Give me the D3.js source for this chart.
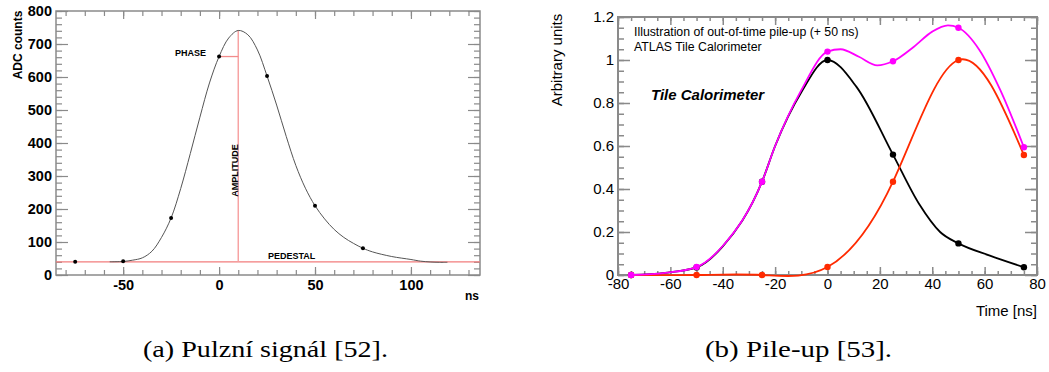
<!DOCTYPE html>
<html lang="en">
<head>
<meta charset="utf-8">
<title>Pulzní signál a pile-up</title>
<script src="https://d3js.org/d3.v7.min.js"></script>
<style>
  body { margin: 0; background: #fff; }
  svg text { font-family: Arial, "Liberation Sans", sans-serif; fill: #000; }
</style>
</head>
<body>
<script>
// (a) pulse shape, ADC counts vs ns
var pulseDotT = [-75, -50, -25, 0, 25, 50, 75];
var pulseDotADC = [40, 42, 173, 662, 603, 210, 81];
var pulseCurveT = [-57, -50, -45, -40, -35, -30, -25, -20, -15, -10, -5, 0, 5, 10, 15, 20, 25, 30, 35, 40, 45, 50, 55, 60, 65, 70, 75, 80, 90, 100, 105, 110, 115, 119];
var pulseCurveADC = [40, 41, 45, 52, 72, 114, 173, 262, 368, 478, 582, 662, 718, 741, 728, 682, 603, 515, 420, 332, 263, 210, 170, 138, 114, 96, 81, 70, 56, 47, 42, 39.5, 38.5, 38.5];
var pedestal = 40, peakT = 10, peakADC = 741, phaseT = 0, phaseADC = 662;
var pulseYTicks = [0, 100, 200, 300, 400, 500, 600, 700, 800];
var pulseXTicks = [-50, 0, 50, 100];

// (b) pile-up, arbitrary units vs time
var pileT = [-75, -50, -25, 0, 25, 50, 75];
var inTime = [0, 0.035, 0.434, 1.0, 0.56, 0.147, 0.036];
var outOfTime = [0, 0, 0, 0.037, 0.434, 1.0, 0.558];
var summed = [0, 0.037, 0.434, 1.039, 0.994, 1.15, 0.594];
// drawn curves (they are not plain splines of the dots)
var inTimeCurveT = [-75, -62, -50, -40, -25, -20, -10, 0, 11, 25, 35, 43, 50, 62, 75];
var inTimeCurveV = [0, 0.01, 0.035, 0.133, 0.434, 0.6, 0.85, 1.0, 0.876, 0.56, 0.33, 0.2, 0.147, 0.09, 0.036];
var summedCurveT = [-75, -62, -50, -40, -25, -20, -10, 0, 5, 12, 19, 25, 33, 40, 46, 50, 58, 66, 75];
var summedCurveV = [0, 0.01, 0.037, 0.135, 0.434, 0.6, 0.86, 1.039, 1.05, 1.015, 0.975, 0.994, 1.062, 1.132, 1.161, 1.15, 1.047, 0.86, 0.594];
var pileYTicks = [0, 0.2, 0.4, 0.6, 0.8, 1, 1.2];
var pileXTicks = [-80, -60, -40, -20, 0, 20, 40, 60, 80];

var w = 1049, h = 372;
var svg = d3.select("body").append("svg").attr("width", w).attr("height", h);

var hyphen = function (d) { return String(+d.toFixed(2)); };

// draws the four sides of tick marks plus a frame
function ticks(g, x, y, o) {
    var x0 = x.range()[0], x1 = x.range()[1], y0 = y.range()[0], y1 = y.range()[1];
    function clean(sel) {
        sel.select(".domain").remove();
        sel.selectAll("line").attr("stroke", o.color).attr("stroke-width", o.tickWidth);
    }
    [[d3.axisBottom, y0], [d3.axisTop, y1]].forEach(function (a) {
        g.append("g").attr("transform", "translate(0," + a[1] + ")")
            .call(a[0](x).tickValues(o.xMinor).tickSize(-o.xMinorLen).tickFormat("")).call(clean);
        g.append("g").attr("transform", "translate(0," + a[1] + ")")
            .call(a[0](x).tickValues(o.xMajor).tickSize(-o.xMajorLen).tickFormat("")).call(clean);
    });
    [[d3.axisLeft, x0], [d3.axisRight, x1]].forEach(function (a) {
        g.append("g").attr("transform", "translate(" + a[1] + ",0)")
            .call(a[0](y).tickValues(o.yMinor).tickSize(-o.yMinorLen).tickFormat("")).call(clean);
        g.append("g").attr("transform", "translate(" + a[1] + ",0)")
            .call(a[0](y).tickValues(o.yMajor).tickSize(-o.yMajorLen).tickFormat("")).call(clean);
    });
    // labels
    var xl = g.append("g").attr("transform", "translate(0," + y0 + ")")
        .call(d3.axisBottom(x).tickValues(o.xMajor).tickSize(0).tickPadding(o.xPad).tickFormat(hyphen));
    xl.select(".domain").remove();
    xl.attr("font-family", null).attr("font-size", null);
    xl.selectAll("text").style("font-size", o.fontSize + "px").style("font-weight", o.weight);
    var yl = g.append("g").attr("transform", "translate(" + x0 + ",0)")
        .call(d3.axisLeft(y).tickValues(o.yMajor).tickSize(0).tickPadding(o.yPad).tickFormat(hyphen));
    yl.select(".domain").remove();
    yl.attr("font-family", null).attr("font-size", null);
    yl.selectAll("text").style("font-size", o.fontSize + "px").style("font-weight", o.weight);
    g.append("rect").attr("x", x0).attr("y", y1).attr("width", x1 - x0).attr("height", y0 - y1)
        .attr("fill", "none").attr("stroke", o.color).attr("stroke-width", o.frameWidth);
}

// ---------- (a) ----------
var ax = d3.scaleLinear().domain([-85, 136]).range([56, 480]);
var ay = d3.scaleLinear().domain([0, 800]).range([275, 11]);
var ga = svg.append("g");

ticks(ga, ax, ay, {
    xMajor: pulseXTicks, xMinor: d3.range(-80, 136, 10), xMajorLen: 8, xMinorLen: 5,
    yMajor: pulseYTicks, yMinor: d3.range(0, 801, 20), yMajorLen: 12, yMinorLen: 6,
    xPad: 5, yPad: 4,
    fontSize: 14.5, weight: "bold", color: "#8a8a8a", tickWidth: 1.2, frameWidth: 1.5
});

// pedestal, amplitude and phase markers
ga.append("line").attr("x1", ax.range()[0]).attr("x2", ax.range()[1])
    .attr("y1", ay(pedestal)).attr("y2", ay(pedestal)).attr("stroke", "#f27c7c").attr("stroke-width", 1.3);
ga.append("line").attr("x1", ax(peakT)).attr("x2", ax(peakT))
    .attr("y1", ay(pedestal)).attr("y2", ay(peakADC)).attr("stroke", "#f7a3a3").attr("stroke-width", 1.5);
ga.append("line").attr("x1", ax(phaseT)).attr("x2", ax(peakT))
    .attr("y1", ay(phaseADC)).attr("y2", ay(phaseADC)).attr("stroke", "#f28b8b").attr("stroke-width", 1.3);

var pulseLine = d3.line().x(function (d) { return ax(d[0]); }).y(function (d) { return ay(d[1]); })
    .curve(d3.curveCatmullRom);
ga.append("path").datum(d3.zip(pulseCurveT, pulseCurveADC)).attr("d", pulseLine)
    .attr("fill", "none").attr("stroke", "#555").attr("stroke-width", 1);
ga.selectAll("circle").data(d3.zip(pulseDotT, pulseDotADC)).enter().append("circle")
    .attr("cx", function (d) { return ax(d[0]); }).attr("cy", function (d) { return ay(d[1]); })
    .attr("r", 2).attr("fill", "#000");

ga.append("text").attr("transform", "translate(22,45) rotate(-90)").attr("text-anchor", "middle")
    .style("font-size", "12px").style("font-weight", "bold").text("ADC counts");
ga.append("text").attr("x", 479).attr("y", 300).attr("text-anchor", "end")
    .style("font-size", "12px").style("font-weight", "bold").text("ns");
ga.append("text").attr("x", 175).attr("y", 56)
    .style("font-size", "9px").style("font-weight", "bold").text("PHASE");
ga.append("text").attr("transform", "translate(238,170.5) rotate(-90)").attr("text-anchor", "middle")
    .style("font-size", "9px").style("font-weight", "bold").text("AMPLITUDE");
ga.append("text").attr("x", 268).attr("y", 258.5)
    .style("font-size", "9px").style("font-weight", "bold").text("PEDESTAL");

// ---------- (b) ----------
var bx = d3.scaleLinear().domain([-80, 80]).range([618, 1037]);
var by = d3.scaleLinear().domain([0, 1.2]).range([275, 17]);
var gb = svg.append("g");

ticks(gb, bx, by, {
    xMajor: pileXTicks, xMinor: d3.range(-80, 81, 5), xMajorLen: 8, xMinorLen: 4,
    yMajor: pileYTicks, yMinor: d3.range(0, 1.201, 0.05), yMajorLen: 12, yMinorLen: 6,
    xPad: 3, yPad: 4,
    fontSize: 15, weight: "normal", color: "#8a8a8a", tickWidth: 1.5, frameWidth: 2
});

var pileLine = function (curve) {
    return d3.line().x(function (d) { return bx(d[0]); }).y(function (d) { return by(d[1]); }).curve(curve);
};
var pileSeries = [
    { dots: d3.zip(pileT, inTime), line: d3.zip(inTimeCurveT, inTimeCurveV), curve: d3.curveMonotoneX, color: "#000000" },
    { dots: d3.zip(pileT, outOfTime), line: d3.zip(pileT, outOfTime), curve: d3.curveNatural, color: "#ff2a00" },
    { dots: d3.zip(pileT, summed), line: d3.zip(summedCurveT, summedCurveV), curve: d3.curveMonotoneX, color: "#ff00ff" }
];
pileSeries.forEach(function (s) {
    gb.append("path").datum(s.line).attr("d", pileLine(s.curve))
        .attr("fill", "none").attr("stroke", s.color).attr("stroke-width", 1.8);
    gb.selectAll(null).data(s.dots).enter().append("circle")
        .attr("cx", function (d) { return bx(d[0]); }).attr("cy", function (d) { return by(d[1]); })
        .attr("r", 3.2).attr("fill", s.color);
});

gb.append("text").attr("transform", "translate(562,60) rotate(-90)").attr("text-anchor", "middle")
    .style("font-size", "15px").text("Arbitrary units");
gb.append("text").attr("x", 1037).attr("y", 316).attr("text-anchor", "end")
    .style("font-size", "15px").text("Time [ns]");
gb.append("text").attr("x", 634).attr("y", 36).style("font-size", "12.3px")
    .text("Illustration of out-of-time pile-up (+ 50 ns)");
gb.append("text").attr("x", 634).attr("y", 51).style("font-size", "12.3px")
    .text("ATLAS Tile Calorimeter");
gb.append("text").attr("x", 651).attr("y", 100).style("font-size", "15px")
    .style("font-weight", "bold").style("font-style", "italic").text("Tile Calorimeter");

// captions
svg.append("text").attr("x", 143).attr("y", 357).attr("textLength", 245).attr("lengthAdjust", "spacingAndGlyphs")
    .style("font-family", "'Liberation Serif', 'DejaVu Serif', serif").style("font-size", "23px")
    .text("(a) Pulzní signál [52].");
svg.append("text").attr("x", 705).attr("y", 357).attr("textLength", 187).attr("lengthAdjust", "spacingAndGlyphs")
    .style("font-family", "'Liberation Serif', 'DejaVu Serif', serif").style("font-size", "23px")
    .text("(b) Pile-up [53].");
</script>
</body>
</html>
